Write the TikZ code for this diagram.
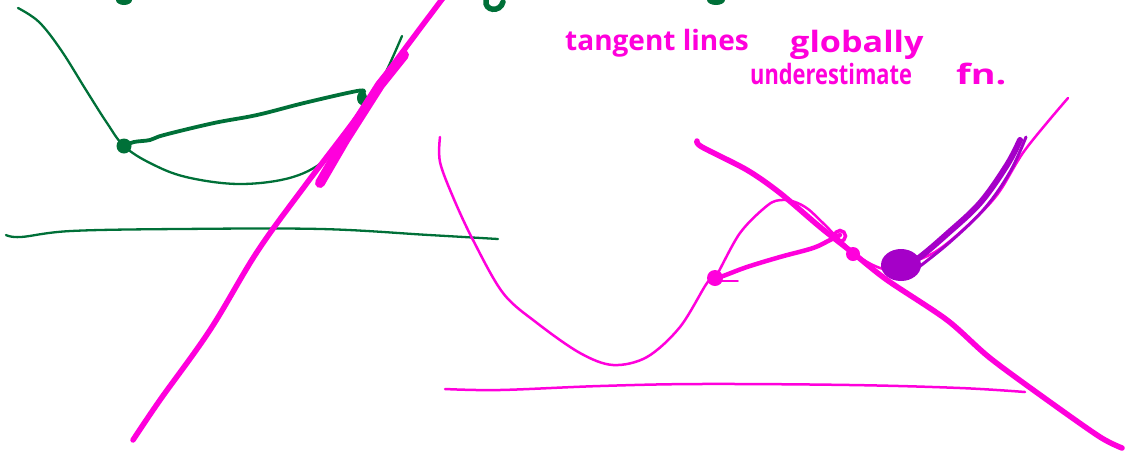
\documentclass[tikz,border=0pt]{standalone}
\usepackage{fontspec}
\setmainfont{Open Sans}
\definecolor{pen}{RGB}{255,0,220}
\definecolor{grn}{RGB}{0,112,56}
\definecolor{prp}{RGB}{165,0,200}
\tikzset{
  thinpen/.style={pen, line width=2.5pt, line cap=round, line join=round},
  thickpen/.style={pen, line width=5.5pt, line cap=round, line join=round},
  thingrn/.style={grn, line width=2.3pt, line cap=round, line join=round},
  thickgrn/.style={grn, line width=3.8pt, line cap=round, line join=round},
  handtext/.style={pen, font=\fontsize{28}{30}\selectfont\bfseries, inner sep=0pt, anchor=base west},
}
\begin{document}
\begin{tikzpicture}[x=1pt,y=-1pt]
\useasboundingbox (0,0) rectangle (1130,456);
% ---------- green (left) ----------
\fill[grn] (124,0) ellipse (8 and 5);
\draw[grn, line width=5.5pt, line cap=round] (486,0) .. controls (484,11) and (500,13) .. (503,2);
\fill[grn] (716,0) ellipse (9 and 5);
% function curve
\draw[thingrn] plot[smooth, tension=0.6] coordinates {(18,8) (39,22) (61,50) (86,90) (107,123) (124,146) (150,163) (186,177) (240,184) (293,177) (329,157) (357,123) (382,80) (402,36)};
% secant
\draw[thickgrn] plot[smooth, tension=0.6] coordinates {(124,146) (134,142) (150,140) (164,135) (214,123) (257,115) (304,103) (357,91) (364,92)};
\node[grn, circle, fill, minimum size=15pt, inner sep=0pt] (g1) at (124,146) {};
\fill[grn] (362,98) ellipse (5 and 7);
% axis
\draw[thingrn] plot[smooth, tension=0.6] coordinates {(6,235) (21,237) (71,231) (179,229) (321,229) (429,235) (498,239)};
% ---------- magenta tangent line (left) ----------
\draw[thickpen] plot[smooth, tension=0.6] coordinates {(133,440) (160,400) (210,330) (257,252) (304,187) (357,117) (393,65) (443,-2)};
\draw[pen, line width=10pt, line cap=round] (320,183) -- (345,140) -- (380,85) -- (404,55);
% ---------- text ----------
\node[handtext] (t1) at (565,50) {tangent lines};
\node[handtext] (t2) at (790,52) {\scalebox{1.22}[1.05]{globally}};
\node[handtext] (t3) at (750,84) {\scalebox{0.78}[1]{underestimate}};
\node[handtext] (t4) at (956,84) {\scalebox{1.35}[1]{fn.}};
% ---------- right picture ----------
% function curve
\draw[thinpen] plot[smooth, tension=0.55] coordinates {(440,137) (440,162) (453,197) (473,240) (503,293) (537,323) (580,353) (613,365) (647,357) (680,327) (707,283) (715,278) (740,233) (768,205) (782,200) (795,202) (808,209) (823,223) (840,240) (858,256) (875,266) (890,270) (905,265) (935,252) (965,228) (997,195) (1025,150) (1068,98)};
% axis
\draw[thinpen] plot[smooth, tension=0.6] coordinates {(445,389) (500,390) (600,386) (700,384) (850,385) (960,388) (1025,392)};
% tangent line
\draw[thickpen] plot[smooth, tension=0.5] coordinates {(697,141) (702,147) (747,170) (780,193) (820,227) (853,253) (887,280) (947,320) (990,358) (1050,402) (1100,437) (1122,448)};
% secant
\draw[pen, line width=4.5pt, line cap=round] plot[smooth, tension=0.6] coordinates {(715,278) (723,276) (747,267) (780,257) (813,248) (830,240) (840,235)};
\draw[pen, line width=1.8pt, line cap=round] (722,281) -- (738,281);
\node[pen, circle, fill, minimum size=16pt, inner sep=0pt] (p1) at (715,278) {};
\node[pen, circle, draw, line width=3.5pt, minimum size=11pt, inner sep=0pt] (p2) at (840,236) {};
\node[pen, circle, fill, minimum size=14pt, inner sep=0pt] (p3) at (853,254) {};
% purple
\fill[prp] (901,265) ellipse (20 and 16);
\draw[prp, line width=6pt, line cap=round] plot[smooth, tension=0.6] coordinates {(905,266) (920,257) (947,234) (980,203) (1007,165) (1020,140)};
\draw[prp, line width=3pt, line cap=round] plot[smooth, tension=0.6] coordinates {(915,270) (950,242) (985,208) (1010,172) (1026,137)};
\end{tikzpicture}
\end{document}
